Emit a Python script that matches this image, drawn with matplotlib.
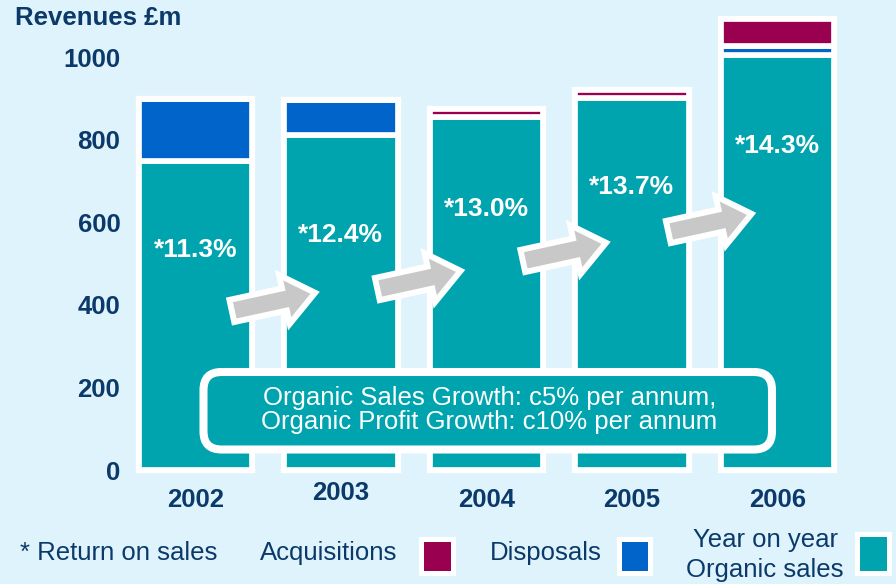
import numpy as np
import matplotlib.pyplot as plt
from matplotlib.patches import FancyBboxPatch, FancyArrowPatch, Rectangle

plt.rcParams['font.family'] = ['Liberation Sans', 'DejaVu Sans']

# data (revenues, £m)
years = ['2002', '2003', '2004', '2005', '2006']
organic = [748, 812, 855, 900, 1005]
disposals = [150, 85, 0, 0, 21]
acquisitions = [0, 0, 19, 20, 66]
ros = ['*11.3%', '*12.4%', '*13.0%', '*13.7%', '*14.3%']
ros_y = [533, 569, 632, 685, 785]
arrow_y = [387, 440, 508, 578]   # where each growth arrow starts
yticks = [0, 200, 400, 600, 800, 1000]

bg = '#DFF3FC'
teal = '#00A4AE'
blue = '#0064CB'
maroon = '#990050'
navy = '#0B3A6A'
grey = '#C8C8C8'

W, H = 896, 584
def fx(px): return px / W
def fy(py): return 1 - py / H

fig = plt.figure(figsize=(8.96, 5.84), dpi=100, facecolor=bg)
ax = fig.add_axes([fx(130), fy(478.5), 750 / W, 462.8 / H])
ax.set_facecolor(bg)

x = np.arange(len(years))
org = np.array(organic)
dis = np.array(disposals)
acq = np.array(acquisitions)
total = org + dis + acq

# white frame behind each stack, then the segments with white gaps
ax.bar(x, total, width=0.78, color='white', edgecolor='white', linewidth=4.5, zorder=1)
ax.bar(x, org, width=0.78, color=teal, edgecolor='white', linewidth=4.1, zorder=2)
ax.bar(x, dis, width=0.78, bottom=org, color=blue, edgecolor='white', linewidth=4.1, zorder=2)
ax.bar(x, acq, width=0.78, bottom=org + dis, color=maroon, edgecolor='white', linewidth=4.1, zorder=2)

for i in range(len(years)):
    ax.text(x[i], ros_y[i], ros[i], ha='center', va='center', color='white',
            fontsize=19, fontweight='bold', zorder=6)

# grey growth arrows between the bars
style = 'simple,head_length=17,head_width=27,tail_width=12'
for i, y0 in enumerate(arrow_y):
    a, b = (x[i] + 0.27, y0), (x[i] + 0.79, y0 + 40)
    ax.add_patch(FancyArrowPatch(a, b, arrowstyle=style, mutation_scale=1, shrinkA=0, shrinkB=0,
                                 fc='white', ec='white', lw=8.6, joinstyle='miter', zorder=4))
    ax.add_patch(FancyArrowPatch(a, b, arrowstyle=style, mutation_scale=1, shrinkA=0, shrinkB=0,
                                 fc=grey, ec='none', zorder=5))

ax.set_xlim(-0.45, 4.705)
ax.set_ylim(-20, 1100)
ax.set_yticks(yticks, labels=[str(t) for t in yticks], fontweight='bold')
ax.set_xticks(x, labels=years, fontweight='bold')
ax.tick_params(axis='both', length=0, labelsize=18.5, labelcolor=navy)
ax.tick_params(axis='y', pad=7)
ax.tick_params(axis='x', pad=7)
ax.get_xticklabels()[1].set_y(0.015)
for s in ax.spines.values():
    s.set_visible(False)

fig.text(fx(15), fy(18), 'Revenues £m', fontsize=18.5, fontweight='bold', color=navy, va='center')

# rounded callout box
box = FancyBboxPatch((fx(203.5), fy(449.5)), 568.5 / W, 77.5 / H,
                     boxstyle='round,pad=0,rounding_size=0.0201', mutation_aspect=W / H,
                     transform=fig.transFigure, fc=teal, ec='white', lw=5.8, zorder=2)
fig.add_artist(box)
fig.text(fx(489.5), fy(410), 'Organic Sales Growth: c5% per annum,\nOrganic Profit Growth: c10% per annum',
         ha='center', va='center', color='white', fontsize=18.5, linespacing=0.98, zorder=3)

# legend along the bottom
fig.text(fx(20), fy(553), '* Return on sales', fontsize=18.5, color=navy, va='center')
fig.text(fx(260), fy(553), 'Acquisitions', fontsize=18.5, color=navy, va='center')
fig.text(fx(490), fy(553), 'Disposals', fontsize=18.5, color=navy, va='center')
fig.text(fx(765), fy(555), 'Year on year\nOrganic sales', fontsize=18.5, color=navy,
         va='center', ha='center', linespacing=1.3)
for x0, x1, y0, y1, c in [(423, 450, 541, 570, maroon), (621, 647, 541, 570, blue),
                          (859, 886, 536, 570, teal)]:
    fig.add_artist(Rectangle((fx(x0 - 2.5), fy(y1 + 2.5)), (x1 - x0 + 5) / W, (y1 - y0 + 5) / H,
                             transform=fig.transFigure, fc=c, ec='white', lw=3.6, zorder=2))

fig.savefig('out.png', dpi=100, facecolor=bg)
